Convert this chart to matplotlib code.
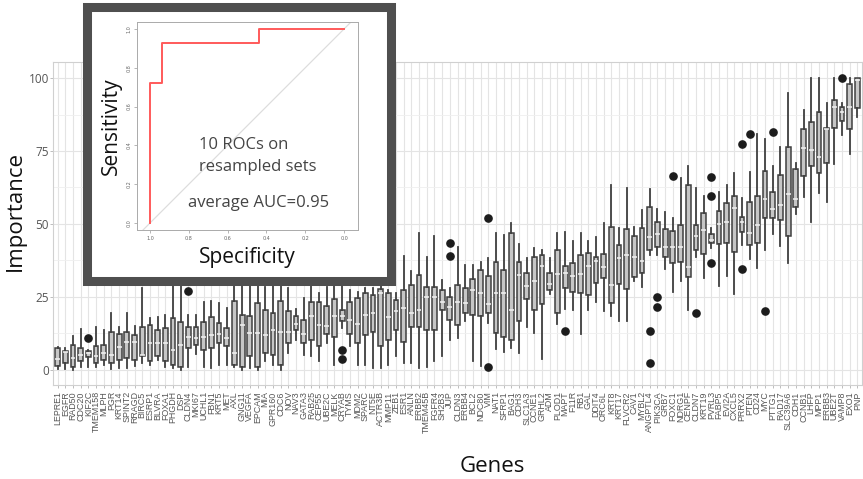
import matplotlib
matplotlib.use("Agg")
import matplotlib.pyplot as plt
from matplotlib.patches import Rectangle

genes = ["LEPRE1","EGFR","RAD50","CDC20","KIF2C","TMEM158","MLPH","PGR","KRT14","SPINT2",
         "RRAGD","BIRC5","ESRP1","BLVRA","FOXA1","PHGDH","DSP","CLDN4","MKI67","UCHL1",
         "FBN1","KRT5","MET","AXL","GNG11","VEGFA","EPCAM","MIA","GPR160","CDC6",
         "NOV","NAV3","GATA3","RAB25","CEP55","UBE2C","MELK","CRYAB","TYMS","MDM2",
         "SPARC","NT5E","ACTR3B","MMP11","ZEB1","ESR1","ANLN","ERBB2","TMEM45B","FGFR4",
         "SH2B3","JUP","CLDN3","ERBB4","BCL2","NDC80","VIM","NAT1","SFRP1","BAG1",
         "CDH3","SLC1A3","CCNE1","GRHL2","ADM","PLOD1","MAPT","F11R","RB1","GAL",
         "DDIT4","ORC6L","KRT8","KRT17","FLVCR2","CAV1","MYBL2","ANGPTL4","PIK3CA","GRB7",
         "FOXC1","NDRG1","CENPF","CLDN7","KRT19","PVRL3","FABP5","EVI2A","CXCL5","PRRX2",
         "PTEN","CD24","MYC","PTTG1","RAD17","SLC39A6","CDH1","CCNB1","LHFP","MPP1",
         "ERBB3","UBE2T","VAMP8","EXO1","PNP"]

whisker_low = [0.2,0.3,0,1.1,1.1,1.1,1.7,0.2,0.6,0.6,
               1.4,2.3,1.5,3.4,1.1,0.5,0,1.1,5.5,1.1,
               0.6,1.7,1.7,1.1,0,0.5,0,2.9,1.7,0,
               5.7,10.3,5.1,4.6,2.9,9.1,1.7,14.3,8,1.7,
               1.7,0.6,0.6,1.7,4.6,2.3,2.3,0.6,1.1,2.9,
               4.6,10.3,10.8,16.6,2.9,1.4,16,7.1,6,7.4,
               5.7,14.8,12.6,3.7,26,15.8,20.8,20.5,12.3,20.5,
               23.1,20,18.3,16.6,16.6,30.3,28.5,39.4,39.4,34.5,
               26.8,30.6,20.5,38.8,31.4,41.7,28.8,32.2,26,42.8,
               37.9,34.8,41.1,46.6,42.5,36.5,53.4,59.4,50.5,60.5,
               57.6,70.5,80.5,74,86.8]
q1 = [1.4,2.5,0.9,2.9,4.3,2.3,3.4,2.3,3.2,4.0,
      3.4,4.6,2.9,4.6,2.9,1.7,1.1,7.4,8.6,6.8,
      7.4,9.1,8.0,1.7,1.1,4.6,1.1,5.7,5.1,1.7,
      9.1,13.7,9.1,10.3,8.0,12.3,11.4,16.6,12.3,9.1,
      12,13.1,8,10.3,13.7,9.7,14.8,14.8,13.7,13.7,
      20.5,17.1,15.4,19.4,18.8,18.3,19.4,12.6,11.4,10.3,
      16.6,24.2,20.5,22.6,27.4,19.4,28,26.8,26.5,25.7,
      29.9,31.4,22.8,29.5,27.6,31.7,33.3,40.9,42.2,38.6,
      36.5,37.1,31.7,41.1,39.7,43.4,43.2,43.4,40.5,47.4,
      42.8,43.4,51.9,51.9,51.4,45.7,55.9,66.4,69.9,67.6,
      71,82.8,85.4,82.4,89.6]
median = [3.6,6.0,4.0,5.1,5.7,4.6,5.7,5.1,7.8,9.4,
          9.4,5.1,9.1,9.1,9.1,6.8,8.6,11.4,11.0,11.2,
          12.0,12.3,10.8,5.7,15.4,12.6,12.6,12.0,13.7,13.1,
          13.1,15.8,12.3,18.3,15.4,15.1,18.5,18.5,17.1,15.8,
          18.8,19.4,26.3,18,20,21.1,19.4,20.5,24.9,24.9,
          23.4,21.5,23.4,22.8,27.2,26.3,22.6,26.3,26.3,20.5,
          32.5,28.8,30.3,35.6,29.5,32.9,33.1,32.2,32.9,35.6,
          37.4,35.2,29.1,38.2,39.4,38.8,37.4,45.4,46.6,42,
          42.2,42.2,35.4,45.9,47.9,44.5,50,50.8,55.4,50.5,
          46.8,49.7,58.4,55,56.5,60.3,58.4,75.9,75.3,72.8,
          82.4,90.2,88.5,90.2,99.3]
q3 = [7.4,6.3,8.5,7.4,6.3,8.0,8.6,13.1,12.3,13.1,
      11.9,14.8,15.4,13.7,14.3,17.6,16.4,14.8,14.8,16.5,
      18.0,16.0,14.3,23.7,18.8,18.3,22.8,20.5,19.4,23.7,
      20.0,18.3,17.1,23.4,23.4,21.9,24.2,20.5,23.4,24.5,
      26.3,25.7,27.6,26.3,24,27.2,29.1,32.5,28.5,28.3,
      27.4,25.1,29.1,28,31,34.2,32,37.1,34.2,47,
      37.1,33.1,38.8,39.4,33.1,41.1,35.6,36.5,39.4,40.2,
      38.6,39.7,48.9,42.8,48.2,45.7,48.5,55.9,50.5,48.2,
      47.7,49.7,63.4,49.7,53.7,46.6,54.6,57.1,59.6,52.3,
      57.6,59.6,68.2,61.1,66.8,76.5,68.7,82.4,85,88.5,
      83,92.5,90,97.9,99.9]
whisker_high = [7.9,7.5,11.6,13.9,6.8,14.8,13.7,19.4,14.8,19.4,
                15.1,28.0,17.7,18.0,18.8,38,36,18.8,18.8,23.4,
                23.7,23.0,21.1,38,37,33,35,28.5,29,31,
                28,21,24.5,29,26.3,28.5,32,29,27.4,26.8,
                28,28,32,27.4,26.3,39,33.7,47,38.8,45.7,
                30.8,28,42,36,36,37.1,38.2,47,46.2,50.2,
                43.2,38.2,41.7,41.1,38.2,47,47.4,44,46.8,44,
                45.4,50.2,63.4,48.5,62.4,48.9,54.8,61.9,55.2,54.2,
                51.9,65.6,69.9,62.2,59.6,48.5,61,63.4,67.4,58.8,
                67.9,80.8,79,69.9,76.3,95,70.8,89,99.9,99.9,
                91.6,99.9,91.3,99.9,99.9]

outlier_gene = [5, 18, 38, 38, 52, 52, 57, 57, 67, 78, 78, 79, 79, 81, 84, 86, 86, 86, 90, 90, 91, 93, 94, 103]
outlier_value = [10.8, 27.1, 6.8, 3.8, 43.4, 39.0, 52.2, 0.9, 13.4, 13.4, 2.5, 25.1, 21.7, 66.6, 19.6,
                 66.0, 59.6, 36.5, 77.4, 34.5, 80.8, 20.3, 81.6, 99.9]

roc_specificity = [1.0, 1.0, 0.94, 0.94, 0.44, 0.44, 0.0]
roc_sensitivity = [0.0, 0.72, 0.72, 0.93, 0.93, 1.0, 1.0]

W, H = 863, 479
fig = plt.figure(figsize=(W/100, H/100), dpi=100)
fig.patch.set_facecolor("white")

def fx(px): return px / W
def fy(py): return 1 - py / H

ax = fig.add_axes([fx(53), fy(385), fx(862) - fx(53), fy(62) - fy(385)])
n = len(genes)
stats = []
for i in range(n):
    fl = [v for g, v in zip(outlier_gene, outlier_value) if g == i + 1]
    stats.append(dict(med=median[i], q1=q1[i], q3=q3[i], whislo=whisker_low[i],
                      whishi=whisker_high[i], fliers=fl, label=genes[i]))
edge = "#3f3f3f"
ax.bxp(stats, positions=range(1, n + 1), widths=0.62, patch_artist=True, showcaps=False,
       boxprops=dict(facecolor="#c6c6c6", edgecolor=edge, linewidth=1.1),
       whiskerprops=dict(color=edge, linewidth=1.3),
       medianprops=dict(color="#f2f2f2", linewidth=1.1),
       flierprops=dict(marker="o", markerfacecolor="#1c1c1c", markeredgecolor="#1c1c1c",
                       markersize=5.2))
ax.set_xlim(0.4, n + 0.6)
ax.set_ylim(-5.2, 105.5)
ax.set_yticks([0, 25, 50, 75, 100])
ax.set_yticks([12.5, 37.5, 62.5, 87.5], minor=True)
ax.set_xticks(range(1, n + 1))
ax.set_xticklabels(genes, rotation=90, fontsize=6.4, family="Liberation Sans", color="#555555")
ax.tick_params(axis="x", length=2.5, width=0.6, color="#b3b3b3", pad=2)
ax.tick_params(axis="y", which="major", length=2, width=0.6, color="#b3b3b3", pad=1,
               labelsize=8.5, labelcolor="#555555")
ax.tick_params(axis="y", which="minor", length=0)
for lab in ax.get_yticklabels():
    lab.set_family("Open Sans")
ax.grid(True, which="major", color="#e4e4e4", linewidth=0.8)
ax.grid(True, which="minor", axis="y", color="#efefef", linewidth=0.6)
ax.set_axisbelow(True)
for s in ax.spines.values():
    s.set_color("#d0d0d0")
    s.set_linewidth(0.8)
fig.text(fx(15), fy(211), "Importance", family="Open Sans", fontsize=16, color="#111111",
         rotation=90, ha="center", va="center")
fig.text(fx(492), fy(466), "Genes", family="Open Sans", fontsize=16, color="#111111",
         ha="center", va="center")

# inset frame
fig.patches.append(Rectangle((fx(86.5), fy(281)), fx(391) - fx(86.5), fy(7) - fy(281),
                             transform=fig.transFigure, facecolor="white",
                             edgecolor="#4f4f4f", linewidth=6.5, zorder=2))

iax = fig.add_axes([fx(137), fy(230), fx(358) - fx(137), fy(22) - fy(230)])
iax.set_zorder(3)
iax.set_xlim(1.067, -0.072)
iax.set_ylim(-0.036, 1.036)
iax.axline((1, 0), (0, 1), color="#dddddd", linewidth=0.9)
iax.plot(roc_specificity, roc_sensitivity, color="#ff5a5a", linewidth=1.4)
ticks = [0.0, 0.2, 0.4, 0.6, 0.8, 1.0]
iax.set_xticks(ticks)
iax.set_yticks(ticks)
iax.set_xticklabels([f"{t:.1f}" for t in ticks], fontsize=3.5, color="#666666")
iax.set_yticklabels([f"{t:.1f}" for t in ticks], fontsize=3.5, color="#666666",
                    rotation=90, va="center")
iax.tick_params(length=2, width=0.5, color="#999999", pad=2)
for s in iax.spines.values():
    s.set_color("#aaaaaa")
    s.set_linewidth(0.7)
iax.set_xlabel("Specificity", family="Open Sans", fontsize=15, color="#111111", labelpad=5)
iax.set_ylabel("Sensitivity", family="Open Sans", fontsize=15, color="#111111", labelpad=3)
txt = dict(family="Open Sans", fontsize=12, color="#444444", zorder=6)
fig.text(fx(199), fy(145), "10 ROCs on", va="center", ha="left", **txt)
fig.text(fx(199), fy(167), "resampled sets", va="center", ha="left", **txt)
fig.text(fx(188), fy(203), "average AUC=0.95", va="center", ha="left", **txt)

fig.savefig("out.png", dpi=100, facecolor="white")
